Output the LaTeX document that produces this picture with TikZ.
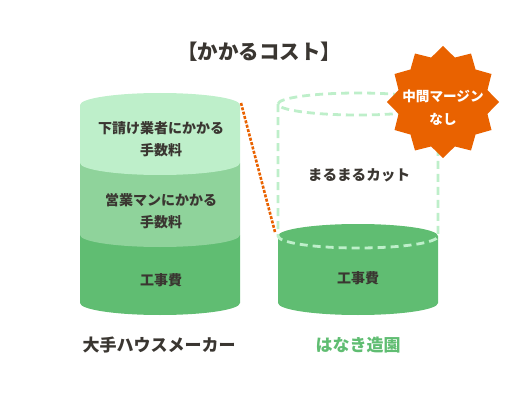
\documentclass[tikz,border=0pt]{standalone}
\usepackage{fontspec}
\setmainfont{Noto Sans CJK JP}
\definecolor{costlight}{HTML}{BEEFCA}
\definecolor{costmid}{HTML}{8FD39B}
\definecolor{costdark}{HTML}{60BD72}
\definecolor{textdark}{HTML}{3A3631}
\definecolor{marginorange}{HTML}{E96200}
\usetikzlibrary{positioning}

\begin{document}
\begin{tikzpicture}[x=1pt, y=1pt,
  bandlbl/.style={font=\bfseries\fontsize{14}{22}\selectfont, text=textdark, align=center},
  namelbl/.style={font=\bfseries\fontsize{17}{20}\selectfont},
  cutline/.style={draw=costlight, line width=2.8pt, dash pattern=on 8pt off 5pt},
  costline/.style={draw=marginorange, line width=2.6pt, dash pattern=on 3pt off 1.5pt}
]
  \useasboundingbox (0,0) rectangle (520,400);

  \node[font=\bfseries\fontsize{20.5}{24}\selectfont, text=textdark] (title) at (259,348) {【かかるコスト】};

  \fill[costdark] (80,165) -- (80,97) arc[start angle=180, end angle=360, x radius=80, y radius=12] -- (240,165) -- cycle;
  \fill[costmid] (80,237) -- (80,165) arc[start angle=180, end angle=360, x radius=80, y radius=12] -- (240,237) -- cycle;
  \fill[costlight] (80,237) arc[start angle=180, end angle=360, x radius=80, y radius=12] -- (240,295) arc[start angle=0, end angle=180, x radius=80, y radius=12] -- cycle;

  \node[bandlbl] (subfee) at (161,261) {下請け業者にかかる\\手数料};
  \node[bandlbl] (salesfee) at (161,188.5) {営業マンにかかる\\手数料};
  \node[bandlbl] (worksL) at (161,120) {工事費};

  \fill[costdark] (278,164) -- (278,97) arc[start angle=180, end angle=360, x radius=80, y radius=12] -- (438,164) arc[start angle=0, end angle=180, x radius=80, y radius=12] -- cycle;
  \draw[cutline] (358,296) ellipse[x radius=80, y radius=11];
  \draw[cutline] (278,296) -- (278,164) arc[start angle=180, end angle=360, x radius=80, y radius=12] -- (438,296);

  \node[bandlbl, font=\bfseries\fontsize{14.6}{20}\selectfont] (cut) at (359,225) {まるまるカット};
  \node[bandlbl] (worksR) at (358,122) {工事費};

  \coordinate (lcut) at (241,297);
  \coordinate (rcut) at (275,168);
  \draw[costline] (lcut) -- (rcut);

  \fill[marginorange, shift={(443,298)}] (90:56) \foreach \a in {0,30,...,330} { -- ({105+\a}:46) -- ({120+\a}:56) } -- cycle;
  \node[font=\bfseries\fontsize{13.6}{23}\selectfont, text=white, align=center] (nomargin) at (443,292.5) {中間マージン\\なし};

  \node[namelbl, text=textdark] (maker) at (159,55) {大手ハウスメーカー};
  \node[namelbl, text=costdark] (hanaki) at (358,55) {はなき造園};
\end{tikzpicture}
\end{document}
